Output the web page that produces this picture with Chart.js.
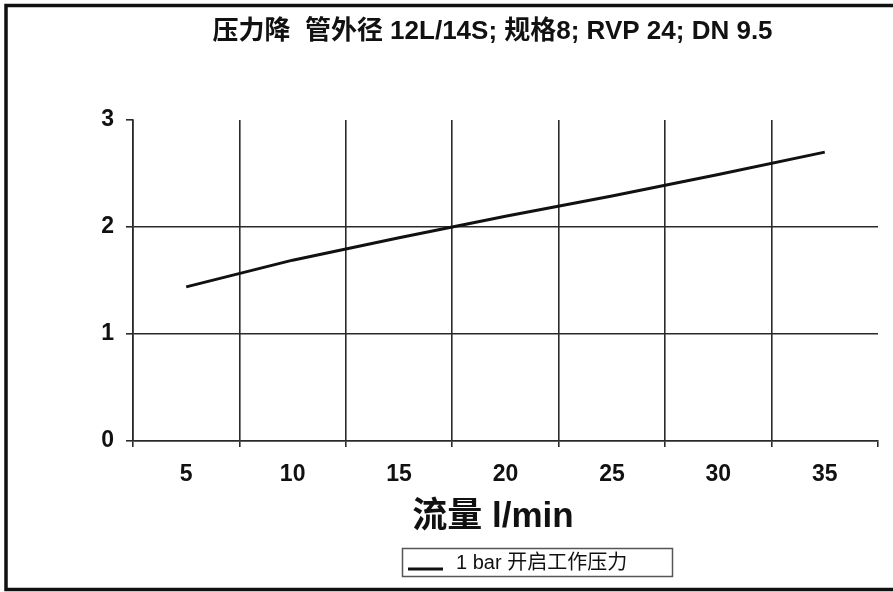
<!DOCTYPE html>
<html>
<head>
<meta charset="utf-8">
<script src="https://cdn.jsdelivr.net/npm/chart.js@4.4.1/dist/chart.umd.min.js"></script>
<style>
  html, body { margin: 0; padding: 0; background: #fff; }
  canvas { display: block; }
</style>
</head>
<body>
<canvas id="c" width="893" height="592"></canvas>
<script>
const chartTitle = '压力降  管外径 12L/14S; 规格8; RVP 24; DN 9.5';
const xAxisTitle = '流量 l/min';
const flowLabels = ['5', '10', '15', '20', '25', '30', '35'];
const seriesLabel = '1 bar 开启工作压力';
const pressureDrop = [1.44, 1.69, 1.90, 2.10, 2.29, 2.49, 2.70];
const yTicks = [0, 1, 2, 3];

const FONT = "'Liberation Sans', Arial, 'Noto Sans CJK SC', sans-serif";
const GRID = '#2a2a2a';

const decor = {
  id: 'decor',
  beforeDraw(chart) {
    const c = chart.ctx;
    c.save();
    c.fillStyle = '#fff';
    c.fillRect(0, 0, chart.width, chart.height);
    c.restore();
  },
  afterDraw(chart) {
    const c = chart.ctx;
    c.save();
    // outer frame (left, top, bottom)
    c.strokeStyle = '#111';
    c.lineWidth = 3.5;
    c.beginPath();
    c.moveTo(893, 5.5);
    c.lineTo(6, 5.5);
    c.lineTo(6, 589.5);
    c.lineTo(893, 589.5);
    c.stroke();

    // chart title
    c.fillStyle = '#111';
    c.font = 'bold 26px ' + FONT;
    c.textAlign = 'center';
    c.textBaseline = 'middle';
    c.fillText(chartTitle, 492.5, 32);

    // x axis title
    c.font = 'bold 35px ' + FONT;
    c.fillText(xAxisTitle, 493, 517);

    // legend box
    const ds = chart.data.datasets[0];
    c.strokeStyle = '#555';
    c.lineWidth = 1.5;
    c.strokeRect(402.5, 548.5, 270, 28);
    c.strokeStyle = ds.borderColor;
    c.lineWidth = 3;
    c.beginPath();
    c.moveTo(408, 569);
    c.lineTo(443, 569);
    c.stroke();
    c.font = '20px ' + FONT;
    c.textAlign = 'left';
    c.fillStyle = '#111';
    c.fillText(ds.label, 456, 563);
    c.restore();
  }
};

new Chart(document.getElementById('c'), {
  type: 'line',
  data: {
    labels: flowLabels,
    datasets: [{
      label: seriesLabel,
      data: pressureDrop,
      borderColor: '#111',
      backgroundColor: '#111',
      borderWidth: 3,
      pointRadius: 0,
      tension: 0
    }]
  },
  options: {
    responsive: false,
    animation: false,
    devicePixelRatio: 1,
    layout: { padding: { left: 60, right: 15, top: 120, bottom: 104 } },
    plugins: {
      legend: { display: false },
      tooltip: { enabled: false },
      title: { display: false }
    },
    scales: {
      x: {
        type: 'category',
        offset: true,
        grid: {
          offset: true,
          color: (ctx) => (ctx.index === undefined ? 'rgba(0,0,0,0)' : GRID),
          tickColor: GRID,
          lineWidth: 1.6,
          tickLength: 6,
          drawTicks: true
        },
        border: { display: true, color: GRID, width: 1.6 },
        ticks: {
          color: '#111',
          padding: 14,
          maxRotation: 0,
          font: { family: FONT, size: 23, weight: 'bold', lineHeight: 1.2 }
        },
        afterFit: (s) => { s.height = 47; }
      },
      y: {
        min: 0,
        max: 3,
        afterBuildTicks: (s) => { s.ticks = yTicks.map(v => ({ value: v })); },
        grid: {
          color: (ctx) => (ctx.tick && ctx.tick.value === 3 ? 'rgba(0,0,0,0)' : GRID),
          tickColor: GRID,
          lineWidth: 1.6,
          tickLength: 7
        },
        border: { display: true, color: GRID, width: 1.6 },
        ticks: {
          color: '#111',
          padding: 12,
          font: { family: FONT, size: 23, weight: 'bold', lineHeight: 1.2 }
        },
        afterFit: (s) => { s.width = 73; }
      }
    }
  },
  plugins: [decor]
});
</script>
</body>
</html>
